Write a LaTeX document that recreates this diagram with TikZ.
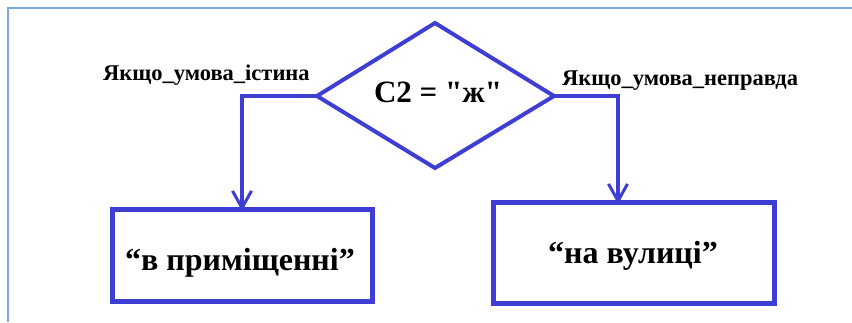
\documentclass[tikz,border=0pt]{standalone}
\usepackage{fontspec}
\setmainfont{Liberation Serif}
\newfontfamily\plainserif{Liberation Serif}
\usetikzlibrary{shapes.geometric,arrows.meta}
\definecolor{lineblue}{RGB}{62,62,212}
\definecolor{frameblue}{RGB}{122,170,224}
\tikzset{
  flow/.style={draw=lineblue,line width=4pt},
  arr/.style={draw=lineblue,line width=3.5pt,-{Straight Barb[length=17pt,width=19pt,line width=3pt]}},
  lbl/.style={font=\fontsize{22.5}{26}\selectfont\bfseries,inner sep=0pt,anchor=base west},
  boxtxt/.style={font=\fontsize{32}{36}\selectfont\bfseries,inner sep=0pt,anchor=base},
}
\begin{document}
\begin{tikzpicture}[x=1pt,y=-1pt]
\useasboundingbox (0,0) rectangle (852,322);
\draw[frameblue,line width=2.5pt] (8,322) coordinate (f1) -- (8,8) coordinate (f2) -- (852,8) coordinate (f3);
% diamond
\draw[flow] (435,23) coordinate (dt) -- (554,96) coordinate (dr) -- (435,168) coordinate (db) -- (317,96) coordinate (dl) -- cycle;
\node[font=\fontsize{31}{34}\selectfont\bfseries\plainserif,inner sep=0pt,anchor=base] (cond) at (438,102) {C2 = "ж"};
% boxes
\draw[flow,line width=5pt] (112,209) coordinate (lb1) rectangle (372,301) coordinate (lb2);
\node[boxtxt] (ltext) at (240,270) {“в приміщенні”};
\coordinate (ltop) at (242,211);
\draw[flow,line width=5pt] (493,202) coordinate (rb1) rectangle (774,303) coordinate (rb2);
\node[boxtxt] (rtext) at (633,263) {“на вулиці”};
\coordinate (rtop) at (618,204);
% connectors
\draw[arr] (dl) -- (242,96) -- (ltop);
\draw[arr] (dr) -- (618,96) -- (rtop);
% labels
\node[lbl] (ltrue) at (103,80) {Якщо\_умова\_істина};
\node[lbl] (lfalse) at (562,85) {Якщо\_умова\_неправда};
\end{tikzpicture}
\end{document}
